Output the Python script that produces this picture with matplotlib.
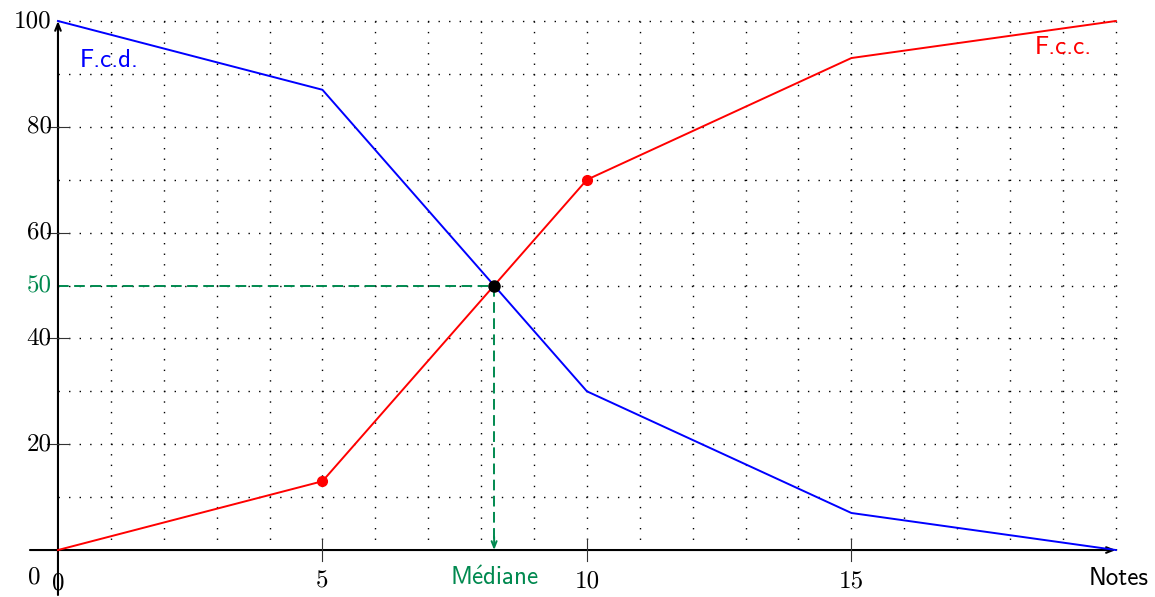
import os
import matplotlib
matplotlib.use("Agg")
import matplotlib.pyplot as plt
from matplotlib import font_manager

# Computer Modern fonts shipped with matplotlib
ttf_dir = os.path.join(matplotlib.get_data_path(), "fonts", "ttf")
for name in ("cmr10.ttf", "cmss10.ttf"):
    font_manager.fontManager.addfont(os.path.join(ttf_dir, name))
plt.rcParams["mathtext.fontset"] = "cm"
plt.rcParams["axes.formatter.use_mathtext"] = True

notes = [0, 5, 10, 15, 20]
fcc = [0, 13, 70, 93, 100]
fcd = [100, 87, 30, 7, 0]
xticks = [5, 10, 15]
yticks = [20, 40, 60, 80, 100]
median_y = 50

GREEN = "#00894F"


def crossing(x, a, b):
    for i in range(len(x) - 1):
        d0 = a[i] - b[i]
        d1 = a[i + 1] - b[i + 1]
        if d0 == 0:
            return x[i], a[i]
        if d0 * d1 < 0:
            t = d0 / (d0 - d1)
            return x[i] + t * (x[i + 1] - x[i]), a[i] + t * (a[i + 1] - a[i])
    return x[-1], a[-1]


def main():
    fig = plt.figure(figsize=(11.55, 5.97), dpi=100)
    ax = fig.add_axes([0, 0, 1, 1])
    ax.set_xlim(-1.096, 20.74)
    ax.set_ylim(-8.88, 103.97)
    ax.axis("off")

    # dotted grid
    dots = dict(color="k", lw=1.0, linestyle=(0, (1.0, 6.6)), zorder=1)
    for gx in range(1, 21):
        ax.plot([gx, gx], [0, 100], **dots)
    for gy in range(10, 101, 10):
        ax.plot([0, 20], [gy, gy], **dots)

    # axes with arrows
    ax.annotate("", xy=(20, 0), xytext=(-0.53, 0),
                arrowprops=dict(arrowstyle="->,head_length=0.5,head_width=0.2",
                                lw=1.5, color="k", shrinkA=0, shrinkB=0), zorder=3)
    ax.annotate("", xy=(0, 100), xytext=(0, -8.5),
                arrowprops=dict(arrowstyle="->,head_length=0.5,head_width=0.2",
                                lw=1.5, color="k", shrinkA=0, shrinkB=0), zorder=3)

    tick_font = dict(family="cmr10", size=18)
    for t in xticks:
        ax.plot([t, t], [-2.1, 2.1], color="#333333", lw=0.8, zorder=3)
        ax.text(t, -6.0, str(t), ha="center", va="center", **tick_font)
    for t in yticks:
        if t < 100:
            ax.plot([-0.2, 0.2], [t, t], color="#333333", lw=0.8, zorder=3)
        ax.text(-0.12, t, str(t), ha="right", va="center", **tick_font)
    ax.text(0, -6.3, "0", ha="center", va="center", **tick_font)
    ax.text(-0.45, -5.1, "0", ha="center", va="center", **tick_font)

    # curves
    ax.plot(notes, fcc, color="red", lw=1.4, zorder=4)
    ax.plot(notes, fcd, color="blue", lw=1.4, zorder=4)
    ax.plot(notes[1:3], fcc[1:3], "o", color="red", ms=7, zorder=5)

    mx, my = crossing(notes, fcc, fcd)

    # median construction
    ax.plot([0, mx], [median_y, median_y], color=GREEN, lw=1.4,
            linestyle=(0, (5.5, 2.8)), zorder=2)
    ax.plot([mx, mx], [median_y, 1.5], color=GREEN, lw=1.4,
            linestyle=(0, (5.5, 2.8)), zorder=2)
    ax.annotate("", xy=(mx, 0), xytext=(mx, 2.5),
                arrowprops=dict(arrowstyle="->,head_length=0.45,head_width=0.18",
                                lw=1.4, color=GREEN, shrinkA=0, shrinkB=0), zorder=3)
    ax.plot([mx], [my], "o", color="k", ms=8, zorder=6)
    ax.text(-0.12, median_y, str(median_y), ha="right", va="center",
            color=GREEN, **tick_font)

    lab = dict(family="cmss10", size=18, va="center")
    ax.text(0.42, 92.5, "F.c.d.", color="blue", ha="left", **lab)
    ax.text(19.55, 94.9, "F.c.c.", color="red", ha="right", **lab)
    ax.text(mx, -5.3, r"$\mathsf{M\acute{e}diane}$", color=GREEN, ha="center",
            size=18, va="center")
    ax.text(20.05, -5.3, "Notes", color="k", ha="center", **lab)

    fig.savefig("out.png", dpi=100)


if __name__ == "__main__":
    main()
